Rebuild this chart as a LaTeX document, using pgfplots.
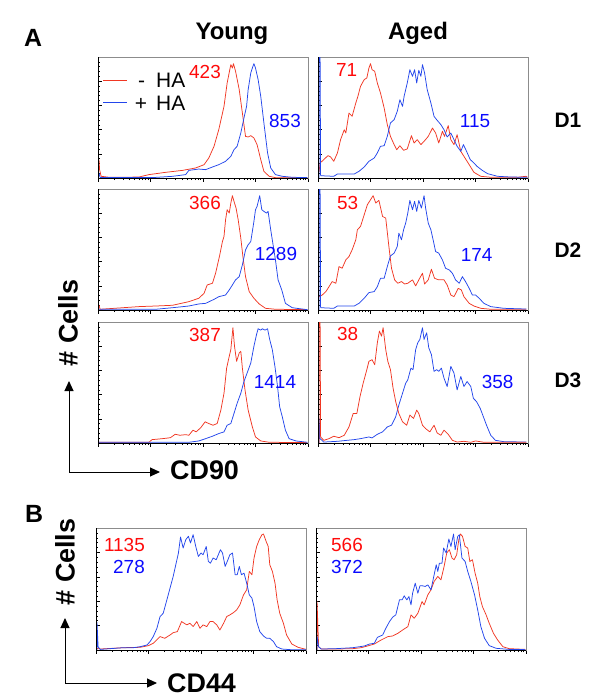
\documentclass[border=0pt]{standalone}
\usepackage{pgfplots}
\pgfplotsset{compat=1.18}
\usepackage{fontspec}
\setmainfont{Liberation Sans}
\usetikzlibrary{arrows.meta}

\definecolor{hred}{RGB}{240,55,35}
\definecolor{hblue}{RGB}{35,70,235}
\definecolor{tred}{RGB}{255,10,10}
\definecolor{tblue}{RGB}{10,10,255}

\newcommand\numf{\fontsize{19}{22}\selectfont}
\newcommand\legf{\fontsize{21}{24}\selectfont}
\newcommand\labf{\fontsize{27}{30}\selectfont\bfseries}

\pgfplotsset{
  facs/.style={
    scale only axis, width=210bp, height=121bp,
    anchor=south west,
    xmin=0, xmax=4, ymin=0, ymax=100,
    xtick={0,1,2,3,4},
    minor xtick={0.301,0.477,0.602,0.699,0.778,0.845,0.903,0.954,
      1.301,1.477,1.602,1.699,1.778,1.845,1.903,1.954,
      2.301,2.477,2.602,2.699,2.778,2.845,2.903,2.954,
      3.301,3.477,3.602,3.699,3.778,3.845,3.903,3.954},
    ytick={0,20,40,60,80,100},
    minor y tick num=4,
    xticklabels={}, yticklabels={},
    xtick pos=bottom, ytick pos=left,
    xtick align=outside, ytick align=inside,
    major tick length=3.5bp, minor tick length=2bp,
    tick style={black, line width=0.5bp},
    axis line style={black!45, line width=0.6bp},
    no markers,
    every axis plot/.append style={line width=0.75bp, line join=round},
    after end axis/.code={\draw[black, line width=0.8bp]
      (rel axis cs:0,1) -- (rel axis cs:0,0) -- (rel axis cs:1,0);},
  },
}

\begin{document}
\begin{tikzpicture}
\path[use as bounding box] (0bp,0bp) rectangle (605bp,-700bp);

% ---- A, D1 young
\begin{axis}[facs, at={(98bp,-178bp)}]
\addplot[hred] coordinates {(0.02,15.2)(0.03,6.9)(0.06,1.4)(0.21,0.6)(0.46,0.6)(0.78,0.8)(0.97,2.8)(1.29,4.7)(1.61,6.3)(1.86,8.3)(2.02,11.0)(2.11,16.5)(2.21,26.2)(2.30,39.9)(2.40,59.2)(2.46,78.5)(2.51,89.5)(2.53,93.7)(2.56,90.9)(2.58,94.5)(2.62,88.2)(2.69,73.0)(2.75,53.7)(2.81,34.4)(2.86,33.9)(2.91,35.0)(2.97,33.1)(3.03,27.6)(3.10,15.2)(3.16,5.5)(3.26,1.4)(3.38,0.3)(3.99,0.3)};
\addplot[hblue] coordinates {(0.02,4.0)(0.04,0.5)(1.10,0.5)(1.42,1.4)(1.67,2.8)(1.73,6.3)(1.92,7.4)(2.05,6.9)(2.18,9.1)(2.30,11.0)(2.43,13.8)(2.53,17.9)(2.59,23.4)(2.65,26.2)(2.72,37.2)(2.78,49.6)(2.83,59.2)(2.86,73.0)(2.91,86.8)(2.94,90.9)(2.97,94.5)(3.00,90.9)(3.05,81.3)(3.10,67.5)(3.16,45.5)(3.23,20.7)(3.29,8.3)(3.38,2.8)(3.51,1.4)(3.70,0.6)(3.99,0.3)};
\end{axis}

% ---- A, D1 aged
\begin{axis}[facs, at={(318bp,-178bp)}]
\addplot[hred] coordinates {(0.02,5.0)(0.04,12.4)(0.11,15.2)(0.19,18.5)(0.24,17.4)(0.30,13.8)(0.37,20.7)(0.43,31.7)(0.50,39.9)(0.53,37.2)(0.59,53.7)(0.65,51.0)(0.72,62.0)(0.76,67.5)(0.81,75.8)(0.88,81.3)(0.93,82.7)(0.97,90.9)(1.00,94.5)(1.03,89.5)(1.08,88.2)(1.13,78.5)(1.19,70.3)(1.26,57.9)(1.32,44.1)(1.38,34.4)(1.45,27.6)(1.50,23.4)(1.56,26.7)(1.63,22.9)(1.70,24.0)(1.78,35.0)(1.83,28.9)(1.89,31.7)(1.96,27.6)(2.02,30.3)(2.10,34.4)(2.18,41.3)(2.24,37.2)(2.30,28.9)(2.37,38.6)(2.41,34.4)(2.48,43.3)(2.53,31.7)(2.59,27.6)(2.65,35.8)(2.72,22.0)(2.78,17.9)(2.88,11.0)(2.97,4.7)(3.10,1.4)(3.29,0.6)(3.80,0.6)(3.96,1.4)(3.99,0.6)};
\addplot[hblue] coordinates {(0.02,0)(0.02,100)(0.04,100)(0.05,1.9)(0.30,1.4)(0.37,3.3)(0.69,3.3)(0.78,5.5)(0.88,9.1)(0.97,13.8)(1.07,16.5)(1.13,20.7)(1.19,26.2)(1.26,26.7)(1.32,34.4)(1.38,45.5)(1.45,48.2)(1.51,55.1)(1.56,64.7)(1.61,59.2)(1.64,67.5)(1.70,78.5)(1.75,89.5)(1.80,84.0)(1.84,89.5)(1.88,78.5)(1.92,89.0)(1.96,84.0)(1.99,93.7)(2.03,86.8)(2.08,73.0)(2.15,62.0)(2.21,51.0)(2.26,48.2)(2.34,44.1)(2.40,39.9)(2.46,33.9)(2.53,37.2)(2.59,31.7)(2.65,26.2)(2.72,22.0)(2.77,27.6)(2.83,22.0)(2.90,15.2)(2.97,12.4)(3.03,9.6)(3.13,6.3)(3.23,3.6)(3.42,1.4)(3.67,0.8)(3.99,0.6)};
\end{axis}

% ---- A, D2 young
\begin{axis}[facs, at={(98bp,-310bp)}]
\addplot[hred] coordinates {(0.02,4.1)(0.04,0.6)(0.78,2.8)(1.10,3.3)(1.42,3.9)(1.73,6.9)(1.92,9.7)(2.02,13.8)(2.08,20.7)(2.18,22.1)(2.24,30.4)(2.32,45.6)(2.37,56.6)(2.40,60.8)(2.43,74.6)(2.46,82.9)(2.50,80.1)(2.53,88.4)(2.56,94.5)(2.60,88.4)(2.63,84.2)(2.67,74.6)(2.72,59.4)(2.76,44.2)(2.81,27.6)(2.88,15.2)(2.97,9.7)(3.07,5.0)(3.19,1.4)(3.38,0.6)(3.99,0.3)};
\addplot[hblue] coordinates {(0.02,0.6)(1.10,0.6)(1.42,1.9)(1.73,3.3)(1.92,5.0)(2.05,5.5)(2.21,8.8)(2.30,11.0)(2.43,12.4)(2.50,16.6)(2.56,20.7)(2.62,24.9)(2.69,27.6)(2.75,37.3)(2.81,49.7)(2.86,53.9)(2.91,56.6)(2.97,73.2)(3.00,82.9)(3.03,85.6)(3.08,94.5)(3.12,82.9)(3.16,81.5)(3.21,80.1)(3.24,81.5)(3.29,66.3)(3.33,55.2)(3.38,41.4)(3.43,24.9)(3.50,16.6)(3.57,5.5)(3.70,1.9)(3.89,0.8)(3.99,0.3)};
\end{axis}

% ---- A, D2 aged
\begin{axis}[facs, at={(318bp,-310bp)}]
\addplot[hred] coordinates {(0.02,11.0)(0.08,12.4)(0.15,15.2)(0.21,19.3)(0.27,23.5)(0.34,22.1)(0.40,35.9)(0.46,34.5)(0.53,41.4)(0.59,44.2)(0.65,49.7)(0.72,58.0)(0.75,66.3)(0.81,69.1)(0.88,78.7)(0.94,87.0)(1.00,91.1)(1.05,94.5)(1.10,88.4)(1.16,90.6)(1.23,77.3)(1.29,76.0)(1.35,52.5)(1.40,34.5)(1.46,24.9)(1.52,22.1)(1.59,23.5)(1.65,21.5)(1.71,22.1)(1.80,24.9)(1.86,19.9)(1.92,24.9)(1.99,30.4)(2.03,21.5)(2.10,24.9)(2.16,33.7)(2.22,26.2)(2.30,24.9)(2.40,24.9)(2.46,20.7)(2.53,12.4)(2.59,11.0)(2.67,17.9)(2.73,16.6)(2.78,11.0)(2.88,5.5)(2.97,3.3)(3.10,1.4)(3.29,0.6)(3.97,0.6)};
\addplot[hblue] coordinates {(0.02,0)(0.02,100)(0.04,100)(0.05,1.9)(0.30,1.4)(0.37,3.3)(0.69,3.3)(0.78,5.5)(0.88,9.7)(0.97,14.4)(1.07,15.2)(1.13,19.3)(1.19,26.2)(1.26,26.2)(1.32,35.9)(1.38,44.7)(1.45,47.0)(1.51,52.5)(1.54,63.5)(1.59,58.0)(1.63,66.3)(1.67,71.8)(1.71,80.1)(1.75,90.6)(1.80,82.9)(1.84,89.8)(1.88,81.5)(1.92,90.6)(1.97,84.2)(2.02,94.5)(2.05,84.2)(2.10,71.8)(2.15,66.3)(2.20,56.6)(2.24,48.3)(2.30,47.0)(2.37,41.4)(2.43,34.5)(2.50,33.1)(2.56,30.4)(2.62,24.9)(2.69,22.1)(2.75,27.6)(2.81,23.5)(2.88,17.9)(2.94,12.4)(3.00,12.4)(3.07,9.7)(3.16,5.5)(3.29,2.8)(3.54,1.4)(3.97,0.8)};
\end{axis}

% ---- A, D3 young
\begin{axis}[facs, at={(98bp,-443bp)}]
\addplot[hred] coordinates {(0.02,0.6)(0.97,0.6)(1.03,2.8)(1.16,3.3)(1.29,3.9)(1.38,4.4)(1.47,7.2)(1.56,6.4)(1.67,6.9)(1.73,6.4)(1.81,10.6)(1.87,9.2)(1.96,12.8)(2.04,17.5)(2.11,16.1)(2.19,14.7)(2.27,16.1)(2.34,27.2)(2.40,41.1)(2.45,61.9)(2.50,71.7)(2.53,77.2)(2.57,95.3)(2.60,80.0)(2.64,67.5)(2.69,74.4)(2.72,75.8)(2.75,61.9)(2.80,43.9)(2.86,27.2)(2.94,13.3)(3.00,5.0)(3.10,1.7)(3.26,0.6)(3.99,0.3)};
\addplot[hblue] coordinates {(0.02,0.6)(1.73,0.6)(1.92,1.7)(2.05,3.6)(2.18,5.6)(2.30,7.8)(2.40,9.2)(2.46,14.7)(2.53,16.1)(2.59,24.4)(2.65,32.8)(2.72,41.1)(2.78,50.8)(2.84,57.8)(2.91,66.1)(2.97,80.0)(3.02,89.7)(3.05,94.4)(3.10,93.3)(3.13,94.4)(3.18,93.3)(3.23,94.4)(3.27,85.6)(3.32,77.2)(3.37,63.3)(3.42,46.7)(3.46,30.0)(3.51,21.7)(3.57,10.6)(3.64,3.6)(3.77,1.7)(3.99,0.6)};
\end{axis}

% ---- A, D3 aged
\begin{axis}[facs, at={(318bp,-443bp)}]
\addplot[hblue] coordinates {(0.02,0)(0.02,20.3)(0.04,3.6)(0.11,0.8)(0.37,1.4)(0.69,2.8)(0.81,3.6)(0.97,5.0)(1.03,4.2)(1.13,7.2)(1.23,9.2)(1.32,13.3)(1.40,14.7)(1.48,21.7)(1.54,31.4)(1.61,41.1)(1.67,49.4)(1.71,52.2)(1.77,61.9)(1.81,60.6)(1.86,77.2)(1.90,82.8)(1.94,85.6)(1.99,95.3)(2.02,85.6)(2.07,91.1)(2.11,78.6)(2.16,73.1)(2.21,59.2)(2.26,60.6)(2.30,59.2)(2.35,61.9)(2.40,53.6)(2.46,46.7)(2.53,63.3)(2.59,57.8)(2.65,43.9)(2.72,55.0)(2.78,46.7)(2.84,50.8)(2.91,46.7)(2.96,36.9)(3.02,34.2)(3.09,28.6)(3.15,21.7)(3.21,14.7)(3.29,6.4)(3.38,2.2)(3.54,1.1)(3.97,0.8)};
\addplot[hred] coordinates {(0.02,0)(0.02,100)(0.04,100)(0.05,5.0)(0.11,2.2)(0.21,3.6)(0.30,5.6)(0.40,4.4)(0.50,6.4)(0.59,13.3)(0.67,24.4)(0.74,24.4)(0.80,38.3)(0.86,49.4)(0.93,60.6)(0.97,67.5)(1.03,68.9)(1.08,64.7)(1.13,82.8)(1.17,92.5)(1.21,88.3)(1.24,95.3)(1.29,77.2)(1.33,67.5)(1.38,60.6)(1.43,45.3)(1.48,34.2)(1.54,24.4)(1.61,17.5)(1.69,14.7)(1.75,23.1)(1.82,20.3)(1.88,27.2)(1.92,24.4)(1.99,14.7)(2.05,11.9)(2.13,9.2)(2.21,14.7)(2.27,8.3)(2.34,6.4)(2.40,10.6)(2.48,7.2)(2.56,2.2)(2.65,0.8)(2.78,1.4)(2.91,0.6)(3.00,1.7)(3.16,0.6)(3.97,0.6)};
\end{axis}

% ---- B young
\begin{axis}[facs, height=122bp, at={(96bp,-650bp)}]
\addplot[hred] coordinates {(0.02,1.4)(0.08,0.8)(0.52,1.9)(0.84,2.2)(1.00,3.6)(1.09,5.5)(1.22,11.0)(1.31,9.6)(1.41,12.3)(1.47,14.2)(1.55,15.1)(1.63,23.3)(1.73,20.6)(1.79,21.9)(1.85,19.2)(1.92,23.3)(1.98,17.8)(2.04,20.6)(2.11,19.2)(2.17,23.3)(2.23,23.3)(2.30,20.6)(2.36,16.4)(2.43,21.9)(2.49,27.4)(2.55,28.8)(2.62,30.7)(2.68,32.9)(2.74,37.0)(2.81,45.2)(2.87,49.3)(2.92,64.4)(2.97,61.7)(3.01,75.4)(3.06,84.9)(3.11,90.4)(3.16,94.5)(3.19,95.1)(3.24,89.1)(3.28,84.9)(3.31,69.9)(3.36,64.4)(3.41,54.8)(3.45,41.1)(3.50,30.1)(3.57,21.9)(3.63,12.3)(3.73,4.9)(3.85,2.2)(4.00,0.5)};
\addplot[hblue] coordinates {(0.02,0)(0.02,22.5)(0.04,2.7)(0.08,0.5)(0.27,1.1)(0.52,1.9)(0.71,1.9)(0.84,2.7)(0.97,4.1)(1.03,6.9)(1.09,11.0)(1.16,17.8)(1.22,27.4)(1.28,30.1)(1.35,41.1)(1.41,50.7)(1.47,60.3)(1.52,69.9)(1.57,79.5)(1.61,92.6)(1.66,83.6)(1.71,90.4)(1.76,93.2)(1.80,87.7)(1.85,94.5)(1.90,84.9)(1.95,76.7)(2.00,79.5)(2.04,78.1)(2.10,84.9)(2.14,72.6)(2.18,71.2)(2.23,75.4)(2.29,74.0)(2.33,78.1)(2.37,82.2)(2.41,79.5)(2.46,68.5)(2.50,72.6)(2.55,78.1)(2.60,79.5)(2.65,61.7)(2.69,61.7)(2.73,68.5)(2.77,61.7)(2.82,63.0)(2.87,54.8)(2.92,45.2)(2.97,42.5)(3.01,35.6)(3.06,23.3)(3.12,15.1)(3.19,11.5)(3.25,9.6)(3.31,9.6)(3.38,6.9)(3.44,2.7)(3.54,0.8)(3.70,0.3)(4.00,0.3)};
\end{axis}

% ---- B aged
\begin{axis}[facs, height=122bp, at={(316bp,-650bp)}]
\addplot[hred] coordinates {(0.02,0)(0.02,39.7)(0.05,2.7)(0.10,0.8)(0.38,0.8)(0.70,1.1)(0.86,1.9)(0.98,3.3)(1.11,4.9)(1.24,8.2)(1.37,11.0)(1.46,11.5)(1.56,13.7)(1.65,16.4)(1.75,19.2)(1.81,28.8)(1.87,26.0)(1.94,30.1)(2.02,39.7)(2.06,37.0)(2.13,45.2)(2.19,49.3)(2.25,56.2)(2.32,60.3)(2.38,57.5)(2.44,68.5)(2.49,79.5)(2.54,82.2)(2.59,75.4)(2.63,74.0)(2.68,78.1)(2.72,90.4)(2.75,95.1)(2.79,93.2)(2.84,84.9)(2.89,83.6)(2.93,72.6)(2.98,74.0)(3.03,63.0)(3.08,54.8)(3.12,43.8)(3.17,35.6)(3.24,28.8)(3.30,21.9)(3.38,13.7)(3.46,8.2)(3.56,2.7)(3.68,1.1)(3.99,0.5)};
\addplot[hblue] coordinates {(0.02,0)(0.02,11.0)(0.05,2.7)(0.10,0.8)(0.38,1.1)(0.70,1.9)(0.83,2.7)(0.92,3.3)(1.02,4.9)(1.11,5.5)(1.17,10.4)(1.27,12.3)(1.33,17.8)(1.40,23.3)(1.46,26.9)(1.52,28.8)(1.59,41.1)(1.64,41.1)(1.68,44.4)(1.73,41.1)(1.77,43.8)(1.81,37.0)(1.84,46.6)(1.89,54.8)(1.94,46.6)(1.98,52.6)(2.03,52.6)(2.08,52.1)(2.13,53.4)(2.19,49.3)(2.23,57.5)(2.29,69.9)(2.32,64.4)(2.35,71.2)(2.40,71.2)(2.43,83.6)(2.48,79.5)(2.53,91.0)(2.57,84.9)(2.62,95.1)(2.65,82.2)(2.70,93.2)(2.73,94.5)(2.78,75.4)(2.84,72.6)(2.89,64.4)(2.95,56.2)(3.02,45.2)(3.08,32.9)(3.14,19.2)(3.21,9.6)(3.30,3.6)(3.43,1.4)(3.68,0.5)(3.99,0.3)};
\end{axis}

% legend of panel A
\draw[hred, line width=0.9bp] (103bp,-80bp) -- (127bp,-80bp);
\draw[hblue, line width=0.9bp] (103bp,-102.7bp) -- (127bp,-102.7bp);
\node[font=\legf, inner sep=0, anchor=base] at (141.5bp,-87.5bp) {-};
\node[font=\legf, inner sep=0, anchor=base] at (141bp,-110.2bp) {+};
\node[font=\legf, inner sep=0, anchor=base west] at (156bp,-87.5bp) {HA};
\node[font=\legf, inner sep=0, anchor=base west] at (156bp,-110.2bp) {HA};

% counts
\begin{scope}[every node/.style={font=\numf, inner sep=0, anchor=center}]
\node[text=tred] at (205bp,-71.7bp) {423};
\node[text=tblue] at (285bp,-120.7bp) {853};
\node[text=tred] at (346.7bp,-70bp) {71};
\node[text=tblue] at (475bp,-120.7bp) {115};
\node[text=tred] at (205bp,-203.3bp) {366};
\node[text=tblue] at (276bp,-254bp) {1289};
\node[text=tred] at (347.7bp,-202.7bp) {53};
\node[text=tblue] at (476.7bp,-255bp) {174};
\node[text=tred] at (205bp,-335bp) {387};
\node[text=tblue] at (275bp,-381.7bp) {1414};
\node[text=tred] at (347.7bp,-334bp) {38};
\node[text=tblue] at (497.7bp,-381.7bp) {358};
\node[text=tred, anchor=east] at (145bp,-545bp) {1135};
\node[text=tblue, anchor=east] at (145bp,-566.7bp) {278};
\node[text=tred, anchor=west] at (331bp,-545bp) {566};
\node[text=tblue, anchor=west] at (331bp,-566.7bp) {372};
\end{scope}

% titles and letters
\node[font=\fontsize{25}{28}\selectfont\bfseries, inner sep=0] at (33bp,-38bp) {A};
\node[font=\fontsize{25}{28}\selectfont\bfseries, inner sep=0] at (34bp,-514bp) {B};
\node[font=\fontsize{24}{28}\selectfont\bfseries, inner sep=0, anchor=base] at (232bp,-39bp) {Young};
\node[font=\fontsize{24}{28}\selectfont\bfseries, inner sep=0, anchor=base] at (418bp,-39bp) {Aged};
\node[font=\fontsize{21}{24}\selectfont\bfseries, inner sep=0] at (568bp,-120bp) {D1};
\node[font=\fontsize{21}{24}\selectfont\bfseries, inner sep=0] at (568bp,-250bp) {D2};
\node[font=\fontsize{21}{24}\selectfont\bfseries, inner sep=0] at (568bp,-380bp) {D3};

% axis arrows
\draw[line width=1bp, -{Triangle[length=10bp,width=9bp]}] (69bp,-472bp) -- (69bp,-381bp);
\draw[line width=1bp, -{Triangle[length=10bp,width=9bp]}] (69bp,-472bp) -- (160bp,-472bp);
\node[font=\labf, inner sep=0, anchor=west] at (170bp,-470bp) {CD90};
\node[font=\labf, inner sep=0, rotate=90] at (68bp,-323bp) {\# Cells};

\draw[line width=1bp, -{Triangle[length=10bp,width=9bp]}] (65bp,-683bp) -- (65bp,-618bp);
\draw[line width=1bp, -{Triangle[length=10bp,width=9bp]}] (65bp,-683bp) -- (157bp,-683bp);
\node[font=\labf, inner sep=0, anchor=west] at (167bp,-683bp) {CD44};
\node[font=\labf, inner sep=0, rotate=90] at (65bp,-562bp) {\# Cells};
\end{tikzpicture}
\end{document}
